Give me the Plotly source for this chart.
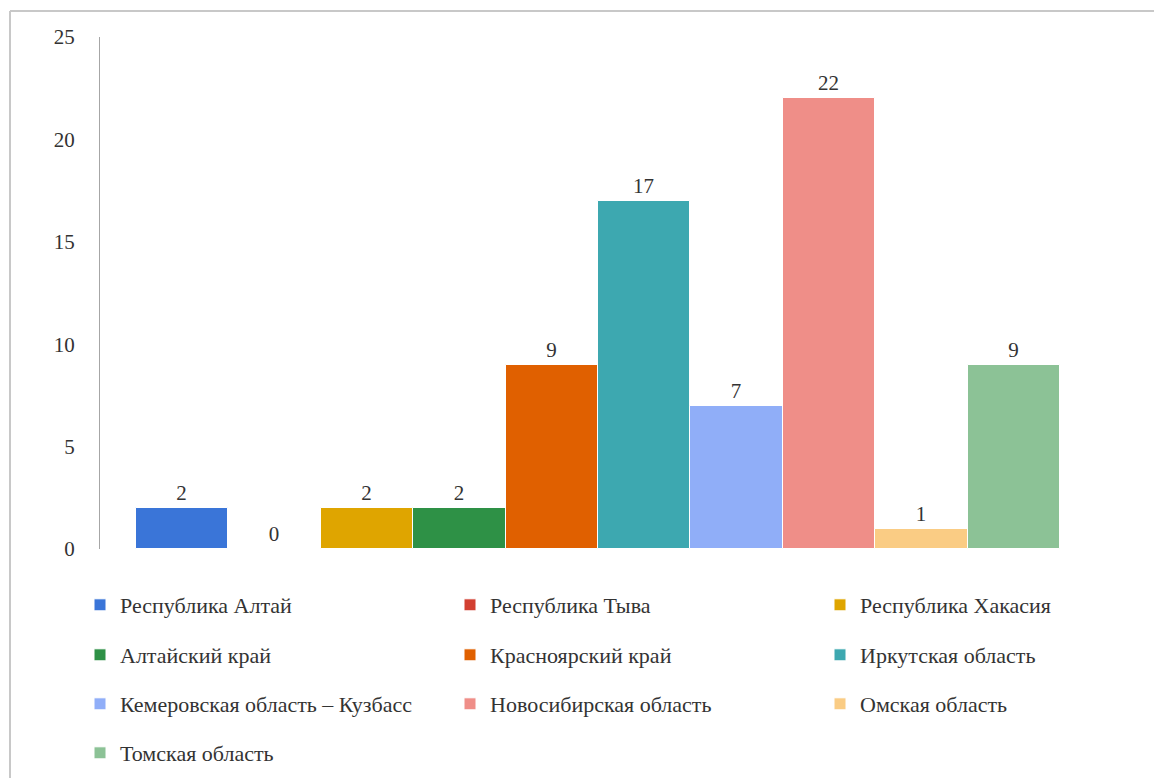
import plotly.graph_objects as go

regions = ["Республика Алтай", "Республика Тыва", "Республика Хакасия",
           "Алтайский край", "Красноярский край", "Иркутская область",
           "Кемеровская область – Кузбасс", "Новосибирская область", "Омская область",
           "Томская область"]
values = [2, 0, 2, 2, 9, 17, 7, 22, 1, 9]
colors = ["#3A75D8", "#D23F31", "#DFA500", "#2E9146", "#E06000",
          "#3DA8B0", "#90AEF8", "#EF8E88", "#FACC84", "#8CC296"]
category = ["Субъекты"]
y_ticks = [0, 5, 10, 15, 20, 25]

FONT = "Liberation Serif, Times New Roman, serif"
TXT = "#333333"

fig = go.Figure()
legend_ids = ["legend", "legend2", "legend3", "legend4"]
for i, (name, v, c) in enumerate(zip(regions, values, colors)):
    fig.add_trace(go.Bar(
        x=category, y=[v], name=name,
        marker=dict(color=c, line=dict(color="white", width=1)),
        text=[str(v)], textposition="outside", cliponaxis=False,
        textfont=dict(family=FONT, size=21, color=TXT),
        legend=legend_ids[i // 3],
    ))

W, H = 1154, 778
L, R, T, B = 100, 1120, 37, 549
pw, ph = R - L, B - T
# bar group pixel extent
GX0, GX1 = 136, 1060
scale = GX1 - GX0
xr = [-0.5 - (GX0 - L) / scale, 0.5 + (R - GX1) / scale]

def px(x):
    return (x - L) / pw

def py(y):
    return (B - y) / ph

legend_rows_y = [605, 655, 704, 753]
leg_common = dict(orientation="h", entrywidth=325, entrywidthmode="pixels",
                  font=dict(family=FONT, size=22, color=TXT),
                  xanchor="left", yanchor="middle", bgcolor="rgba(0,0,0,0)",
                  itemclick=False, itemdoubleclick=False)
legends = {}
for k, lid in enumerate(legend_ids):
    legends[lid] = dict(leg_common, x=px(80), y=py(legend_rows_y[k]))

fig.update_layout(
    width=W, height=H,
    margin=dict(l=L, r=W - R, t=T, b=H - B, pad=0, autoexpand=False),
    paper_bgcolor="white", plot_bgcolor="white",
    barmode="group", bargap=0, bargroupgap=0,
    showlegend=True,
    font=dict(family=FONT, color=TXT),
    xaxis=dict(showticklabels=False, showgrid=False, zeroline=False,
               showline=False, ticks="", range=xr),
    yaxis=dict(range=[0, 25], tickvals=y_ticks, showgrid=False, zeroline=False,
               showline=True, linecolor="#A6A6A6", linewidth=1, ticks="",
               ticklabelstandoff=20,
               tickfont=dict(family=FONT, size=21, color=TXT)),
    shapes=[
        dict(type="line", xref="paper", yref="paper", x0=px(10), x1=px(1160),
             y0=py(11), y1=py(11), line=dict(color="#C8C8C8", width=2)),
        dict(type="line", xref="paper", yref="paper", x0=px(10), x1=px(10),
             y0=py(11), y1=py(790), line=dict(color="#C8C8C8", width=2)),
    ],
    **legends,
)

fig.write_html("out.html", config={"displayModeBar": False},
               post_script="document.body.style.margin='0';document.body.style.overflow='hidden';")
